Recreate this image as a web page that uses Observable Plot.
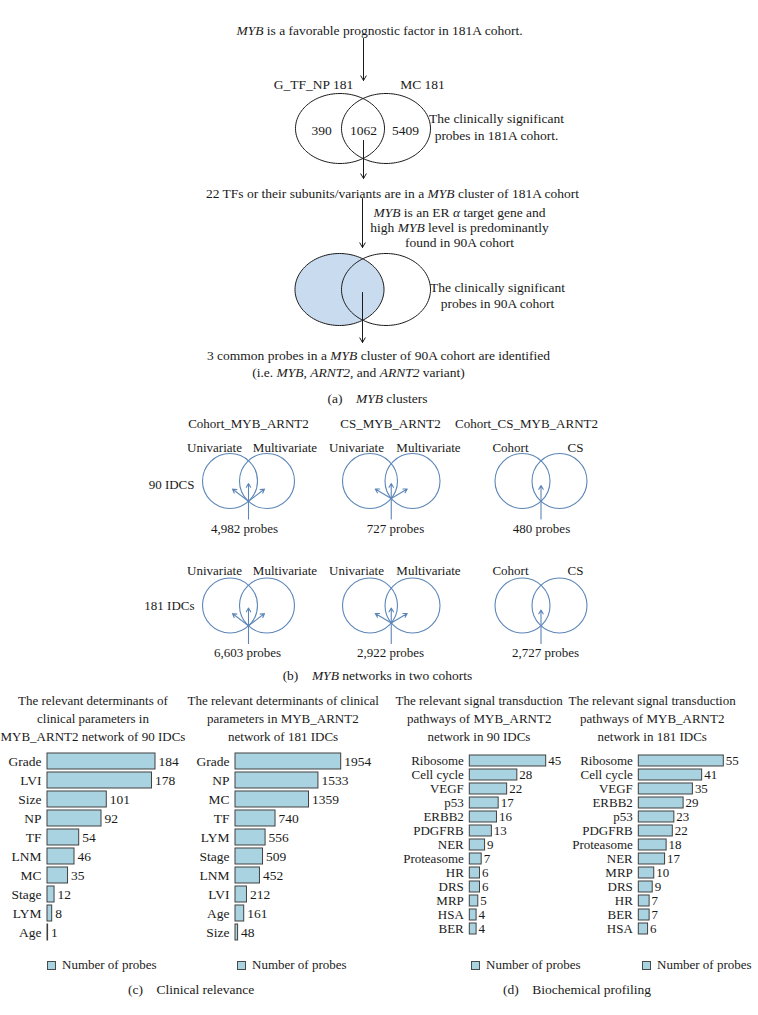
<!DOCTYPE html>
<html><head><meta charset="utf-8">
<script src="https://cdn.jsdelivr.net/npm/d3@7"></script>
<script src="https://cdn.jsdelivr.net/npm/@observablehq/plot@0.6"></script>
<style>
body{margin:0;background:#fff;}
#root{position:relative;width:758px;height:1015px;overflow:hidden;font-family:"Liberation Serif","Times New Roman",serif;color:#1a1a1a;}
.ttl{position:absolute;font-size:13px;line-height:16px;white-space:nowrap;}
.leg{position:absolute;font-size:13px;line-height:16px;white-space:nowrap;display:flex;align-items:center;}
.leg i.sw{display:inline-block;width:7px;height:7px;background:#a9d3e1;border:1px solid #4a4a4a;margin-right:6px;}
.cap{position:absolute;font-size:13.5px;line-height:16px;white-space:nowrap;}
</style></head><body><div id="root"></div>
<script>
// ---------------- DATA ----------------
// (a) MYB clusters
const flowTop = "*MYB* is a favorable prognostic factor in 181A cohort.";
const vennA1Sets = ["G_TF_NP 181", "MC 181"];
const vennA1Counts = ["390", "1062", "5409"];
const vennA1Note = ["The clinically significant", "probes in 181A cohort."];
const flowMid = "22 TFs or their subunits/variants are in a *MYB* cluster of 181A cohort";
const flowSide = ["*MYB* is an ER *α* target gene and", "high *MYB* level is predominantly", "found in 90A cohort"];
const vennA2Note = ["The clinically significant", "probes in 90A cohort"];
const flowEnd = ["3 common probes in a *MYB* cluster of 90A cohort are identified", "(i.e. *MYB*, *ARNT2,* and *ARNT2* variant)"];
const capA = "(a)\u2003*MYB* clusters";
// (b) MYB networks
const networkTitles = ["Cohort_MYB_ARNT2", "CS_MYB_ARNT2", "Cohort_CS_MYB_ARNT2"];
const networkSets = [["Univariate", "Multivariate"], ["Univariate", "Multivariate"], ["Cohort", "CS"]];
const cohortRows = ["90 IDCS", "181 IDCs"];
const probes90 = ["4,982 probes", "727 probes", "480 probes"];
const probes181 = ["6,603 probes", "2,922 probes", "2,727 probes"];
const capB = "(b)\u2003*MYB* networks in two cohorts";
// (c) Clinical relevance
const clin90Title = ["The relevant determinants of", "clinical parameters in", "MYB_ARNT2 network of 90 IDCs"];
const clin90Cats = ["Grade", "LVI", "Size", "NP", "TF", "LNM", "MC", "Stage", "LYM", "Age"];
const clin90Vals = [184, 178, 101, 92, 54, 46, 35, 12, 8, 1];
const clin181Title = ["The relevant determinants of clinical", "parameters in MYB_ARNT2", "network of 181 IDCs"];
const clin181Cats = ["Grade", "NP", "MC", "TF", "LYM", "Stage", "LNM", "LVI", "Age", "Size"];
const clin181Vals = [1954, 1533, 1359, 740, 556, 509, 452, 212, 161, 48];
// (d) Biochemical profiling
const path90Title = ["The relevant signal transduction", "pathways of MYB_ARNT2", "network in 90 IDCs"];
const path90Cats = ["Ribosome", "Cell cycle", "VEGF", "p53", "ERBB2", "PDGFRB", "NER", "Proteasome", "HR", "DRS", "MRP", "HSA", "BER"];
const path90Vals = [45, 28, 22, 17, 16, 13, 9, 7, 6, 6, 5, 4, 4];
const path181Title = ["The relevant signal transduction", "pathways of MYB_ARNT2", "network in 181 IDCs"];
const path181Cats = ["Ribosome", "Cell cycle", "VEGF", "ERBB2", "p53", "PDGFRB", "Proteasome", "NER", "MRP", "DRS", "HR", "BER", "HSA"];
const path181Vals = [55, 41, 35, 29, 23, 22, 18, 17, 10, 9, 7, 7, 6];
const legendLabel = "Number of probes";
const capC = "(c)\u2003Clinical relevance";
const capD = "(d)\u2003Biochemical profiling";

// ---------------- STYLE / LAYOUT ----------------
const FONT = '"Liberation Serif","Times New Roman",serif';
const INK = "#1a1a1a";
const VBLUE = "#5c86b8";
const BARFILL = "#a9d3e1";
const BARSTROKE = "#404040";
const root = document.getElementById("root");

// turn Plot's translate() on each text into plain x/y attributes
function flattenText(svg) {
  svg.querySelectorAll("text").forEach(t => {
    const tr = (t.getAttribute("transform") || "").trim();
    const m = /^translate\(\s*([-\d.e+]+)[\s,]+([-\d.e+]+)\s*\)$/.exec(tr);
    if (!m) return;
    const x = parseFloat(m[1]) + (parseFloat(t.getAttribute("x")) || 0);
    const yAttr = t.getAttribute("y");
    t.removeAttribute("transform");
    t.setAttribute("x", x);
    t.setAttribute("y", m[2]);
    if (yAttr) t.setAttribute("dy", yAttr);
  });
}
// Split "*italic*" segments into separate, measured text elements
function italicize(svg) {
  Array.from(svg.querySelectorAll("text")).forEach(t => {
    if (t.children.length) return;
    const s = t.textContent;
    if (!s.includes("*")) return;
    const parent = t.parentNode;
    const anchor = getComputedStyle(t).textAnchor || "middle";
    const baseX = parseFloat(t.getAttribute("x")) || 0;
    const clones = [];
    s.split("*").forEach((p, i) => {
      if (!p) return;
      const c = t.cloneNode(false);
      c.textContent = p;
      c.style.whiteSpace = "pre";
      c.setAttribute("text-anchor", "start");
      if (i % 2 === 1) c.setAttribute("font-style", "italic");
      parent.appendChild(c);
      clones.push(c);
    });
    const widths = clones.map(c => c.getComputedTextLength());
    const total = d3.sum(widths);
    let x0 = anchor === "middle" ? -total / 2 : anchor === "end" ? -total : 0;
    clones.forEach((c, i) => { c.setAttribute("x", baseX + x0); x0 += widths[i]; });
    parent.removeChild(t);
  });
}
function put(el, left, top) {
  el.style.position = "absolute";
  el.style.left = left + "px";
  el.style.top = top + "px";
  root.appendChild(el);
}
function putCentered(el, cx, top) {
  put(el, 0, top);
  el.style.left = (cx - el.offsetWidth / 2) + "px";
}

// ---------- diagram (a) + (b) ----------
const ellipse = (id, cx, cy, rx, ry) => d3.range(0, 360, 3).map(a => ({id, x: cx + rx * Math.cos(a * Math.PI / 180), y: cy + ry * Math.sin(a * Math.PI / 180)}));
const A1 = {cy: 128, cl: 339.5, cr: 385.5, rx: 44.5, ry: 35};
const A2 = {cy: 289, cl: 339, cr: 385.5, rx: 44.5, ry: 36};
const ellA1 = [...ellipse("a1l", A1.cl, A1.cy, A1.rx, A1.ry), ...ellipse("a1r", A1.cr, A1.cy, A1.rx, A1.ry)];
const ellA2L = ellipse("a2l", A2.cl, A2.cy, A2.rx, A2.ry);
const ellA2 = [...ellA2L, ...ellipse("a2r", A2.cr, A2.cy, A2.rx, A2.ry)];

const midText = [
  {t: flowTop, x: 379, y: 30},
  {t: vennA1Sets[0], x: 313, y: 84}, {t: vennA1Sets[1], x: 422, y: 84},
  ...vennA1Counts.map((t, i) => ({t, x: [321, 363, 405][i], y: 130})),
  ...vennA1Note.map((t, i) => ({t, x: 496, y: 118 + 17 * i})),
  {t: flowMid, x: 392, y: 193},
  ...flowSide.map((t, i) => ({t, x: 459, y: 212 + 15 * i})),
  ...vennA2Note.map((t, i) => ({t, x: 497, y: 287 + 16 * i})),
  {t: flowEnd[0], x: 378, y: 355}, {t: flowEnd[1], x: 358, y: 372},
  {t: capA, x: 377, y: 398},
  {t: capB, x: 377, y: 675}
];
const arrowsA = [
  {x1: 363, y1: 38, x2: 363, y2: 80},
  {x1: 363, y1: 140, x2: 363, y2: 178},
  {x1: 362, y1: 198, x2: 362, y2: 247},
  {x1: 362, y1: 292, x2: 362, y2: 342}
];

// (b) geometry
const R = 27.5;
const pairX = [[229.5, 266.5], [369.5, 412], [522, 559]];
const rowY = [480.5, 605];
const circles = [];
const arrowsB = [];
rowY.forEach(cy => pairX.forEach((p, j) => {
  circles.push({x: p[0], y: cy}, {x: p[1], y: cy});
  const m = (p[0] + p[1]) / 2, h = (p[1] - p[0]) / 2;
  const yi = cy + Math.sqrt(R * R - h * h);
  arrowsB.push({x1: m, y1: cy + 38, x2: m, y2: cy + (j === 2 ? 4.5 : 2.5)});
  if (j < 2) {
    arrowsB.push({x1: m, y1: yi, x2: m - 16, y2: cy + 8});
    arrowsB.push({x1: m, y1: yi, x2: m + 16, y2: cy + 8});
  }
}));
const bText = [
  ...networkTitles.map((t, j) => ({t, x: [248, 390, 526][j], y: 423})),
  ...[447, 570].flatMap(y => networkSets.flatMap((s, j) => s.map((t, k) => ({t, x: [[214, 284.5], [356, 428], [510, 575]][j][k], y})))),
  ...probes90.map((t, j) => ({t, x: [244, 395, 541][j], y: 528})),
  ...probes181.map((t, j) => ({t, x: [247, 390, 545][j], y: 652}))
];
const rowLabels = cohortRows.map((t, i) => ({t, x: 194, y: [484, 605][i]}));

const diagram = Plot.plot({
  width: 758, height: 690, margin: 0,
  x: {type: "identity"}, y: {type: "identity"},
  style: {background: "none", fontFamily: FONT, color: INK},
  marks: [
    Plot.line(ellA2L, {x: "x", y: "y", z: "id", fill: "#c9dbef", stroke: "none", curve: "linear-closed"}),
    Plot.line(ellA1, {x: "x", y: "y", z: "id", stroke: INK, strokeWidth: 1, curve: "linear-closed"}),
    Plot.line(ellA2, {x: "x", y: "y", z: "id", stroke: INK, strokeWidth: 1, curve: "linear-closed"}),
    Plot.arrow(arrowsA, {x1: "x1", y1: "y1", x2: "x2", y2: "y2", stroke: INK, strokeWidth: 1, headLength: 8}),
    Plot.dot(circles, {x: "x", y: "y", r: R, stroke: VBLUE, strokeWidth: 1.1, fill: "none"}),
    Plot.arrow(arrowsB, {x1: "x1", y1: "y1", x2: "x2", y2: "y2", stroke: VBLUE, strokeWidth: 1.1, headLength: 6}),
    Plot.text(midText, {x: "x", y: "y", text: "t", fontSize: 13.5, fill: INK}),
    Plot.text(bText, {x: "x", y: "y", text: "t", fontSize: 13, fill: INK}),
    Plot.text(rowLabels, {x: "x", y: "y", text: "t", fontSize: 13, fill: INK, textAnchor: "end"})
  ]
});
put(diagram, 0, 0);
flattenText(diagram);
italicize(diagram);

// ---------- bar charts ----------
function barChart(cats, vals, o) {
  const rows = cats.map((c, i) => ({cat: c, value: vals[i]}));
  const n = cats.length;
  const plotH = o.step * (n - o.pi);
  const svg = Plot.plot({
    width: o.width, height: o.mt + plotH + 6,
    marginLeft: o.ml, marginRight: o.width - o.xEnd, marginTop: o.mt, marginBottom: 6,
    style: {background: "none", fontFamily: FONT, fontSize: o.fs + "px", color: INK},
    x: {axis: null},
    y: {domain: cats, paddingInner: o.pi, paddingOuter: 0, tickSize: 0, tickPadding: o.tp, label: null},
    marks: [
      Plot.barX(rows, {x: "value", y: "cat", fill: BARFILL, stroke: BARSTROKE, strokeWidth: 1}),
      Plot.text(rows, {x: "value", y: "cat", text: d => String(d.value), textAnchor: "start", dx: o.dx, fontSize: o.fs, fill: INK})
    ]
  });
  put(svg, o.left, o.top);
  flattenText(svg);
}
function title(lines, cx, top) {
  lines.forEach((line, i) => {
    const d = document.createElement("div");
    d.className = "ttl";
    d.textContent = line;
    putCentered(d, cx, top + 18 * i);
  });
}
function legend(x, y) {
  const d = document.createElement("div");
  d.className = "leg";
  d.innerHTML = '<i class="sw"></i><span>' + legendLabel + '</span>';
  put(d, x, y);
}
function caption(text, cx, y) {
  const d = document.createElement("div");
  d.className = "cap";
  d.innerHTML = text.replace(/\u2003/g, "&emsp;");
  putCentered(d, cx, y);
}

const cOpts = {step: 19.2, pi: 0.17, mt: 7, top: 745, fs: 13.5, dx: 3, tp: 6};
const dOpts = {step: 14.5, pi: 0.2, mt: 6.7, top: 745, fs: 13, dx: 2, tp: 6};
title(clin90Title, 93, 693);
title(clin181Title, 283, 693);
title(path90Title, 479, 693);
title(path181Title, 652, 693);
barChart(clin90Cats, clin90Vals, {...cOpts, left: 0, width: 185, ml: 47, xEnd: 155});
barChart(clin181Cats, clin181Vals, {...cOpts, left: 190, width: 185, ml: 45, xEnd: 150.7});
barChart(path90Cats, path90Vals, {...dOpts, left: 380, width: 190, ml: 89.3, xEnd: 165.7});
barChart(path181Cats, path181Vals, {...dOpts, left: 560, width: 198, ml: 78.3, xEnd: 163.3});
legend(47, 957);
legend(237, 957);
legend(471, 957);
legend(642, 957);
caption(capC, 191, 982);
caption(capD, 577, 982);
</script></body></html>
